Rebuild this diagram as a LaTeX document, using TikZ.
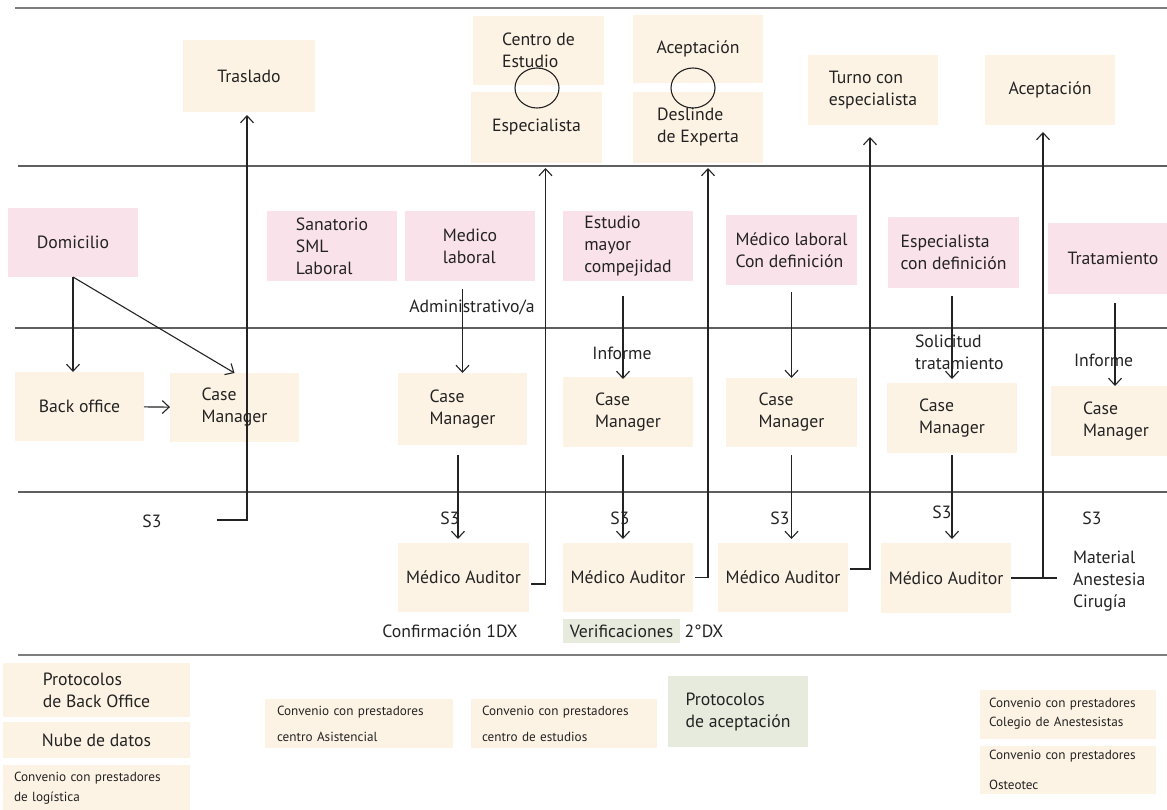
\documentclass[tikz,border=0pt]{standalone}
\usepackage{fontspec}
\setmainfont{PT Sans}
\usetikzlibrary{arrows.meta,shapes.geometric}

\definecolor{creamc}{RGB}{253,243,229}
\definecolor{pinkc}{RGB}{250,226,235}
\definecolor{greenc}{RGB}{230,235,221}
\definecolor{inkc}{RGB}{35,35,35}
\definecolor{lanec}{RGB}{95,95,95}
\definecolor{lanelight}{RGB}{125,125,125}

\newcommand\bodyfont{\fontsize{17.7}{22}\selectfont}

\begin{document}
\begin{tikzpicture}[x=1pt,y=-1pt,
  every node/.style={text=inkc, inner sep=0pt, outer sep=0pt, font=\bodyfont},
  box/.style={align=left, draw=none},
  cream/.style={box, fill=creamc},
  pink/.style={box, fill=pinkc},
  green/.style={box, fill=greenc},
  wh/.style 2 args={minimum width=#1, minimum height=#2},
  ring/.style={draw=inkc, line width=1.1pt, ellipse, minimum width=44, minimum height=40},
  lbl/.style={align=left},
  conn/.style={draw=inkc, line width=1.1pt},
  arr/.style={conn, -{Straight Barb[length=7pt,width=13pt,line width=1.1pt]}},
  lane/.style={draw=lanec, line width=2pt},
  laneout/.style={draw=lanelight, line width=2.8pt},
]
\useasboundingbox (0,0) rectangle (1167,809);

% swim-lane separators
\draw[laneout] (15,8) -- (1167,8);
\draw[lane] (18,166) -- (1167,166);
\draw[lane] (15,328) -- (1167,328);
\draw[lane] (18,492) -- (1167,492);
\draw[laneout] (18,655) -- (1167,655);

% top lane: outcomes
\node[cream, wh={132}{72}] (tras) at (249,76) {Traslado};
\node[cream, wh={131}{69}] (centro) at (538.5,50.5) {Centro de\\Estudio};
\node[cream, wh={131}{71}] (espe) at (536.5,127.5) {Especialista};
\node[ring] (ring1) at (537,88) {};
\node[cream, wh={130}{68}] (acep1) at (698,49) {Aceptación};
\node[cream, wh={130}{71}] (desl) at (698,127.5) {Deslinde\\de Experta};
\node[ring] (ring2) at (693,88) {};
\node[cream, wh={130}{70}] (turno) at (873,90) {Turno con\\especialista};
\node[cream, wh={130}{70}] (acep2) at (1050,90) {Aceptación};

% second lane: origins
\node[pink, wh={130}{69}] (dom) at (73,242.5) {Domicilio};
\node[pink, wh={130}{70}] (sana) at (332,246) {Sanatorio\\SML\\Laboral};
\node[pink, wh={130}{70}] (medlab) at (470,246) {Medico\\laboral};
\node[pink, wh={130}{70}] (estu) at (628,246) {Estudio\\mayor\\compejidad};
\node[pink, wh={131}{70}] (mlcon) at (791.5,250) {Médico laboral\\Con definición};
\node[pink, wh={131}{71}] (espcon) at (953.5,252.5) {Especialista\\con definición};
\node[pink, wh={130}{71}] (trat) at (1113,258.5) {Tratamiento};

% third lane: case management
\node[cream, wh={129}{69}] (back) at (79.5,406.5) {Back office};
\node[cream, wh={129}{69}] (cm1) at (234.5,407.5) {Case\\Manager};
\node[cream, wh={129}{72}] (cm2) at (462.5,409) {Case\\Manager};
\node[cream, wh={130}{70}] (cm3) at (628,412) {Case\\Manager};
\node[cream, wh={131}{69}] (cm4) at (791.5,412.5) {Case\\Manager};
\node[cream, wh={130}{70}] (cm5) at (952,418) {Case\\Manager};
\node[cream, wh={130}{70}] (cm6) at (1116,421) {Case\\Manager};

% fourth lane: audit
\node[cream, wh={131}{69}] (ma1) at (463.5,577.5) {Médico Auditor};
\node[cream, wh={130}{69}] (ma2) at (628,577.5) {Médico Auditor};
\node[cream, wh={130}{69}] (ma3) at (783,577.5) {Médico Auditor};
\node[cream, wh={130}{70}] (ma4) at (946,578) {Médico Auditor};

% free labels
\node[lbl] (adm) at (472,307) {Administrativo/a};
\node[lbl] (inf1) at (622,353) {Informe};
\node[lbl, anchor=west] (sol) at (915,352.5) {Solicitud\\tratamiento};
\node[lbl, anchor=west] (inf2) at (1074,360) {Informe};
\node (s3a) at (152,521) {S3};
\node (s3b) at (450,518) {S3};
\node (s3c) at (620,518) {S3};
\node (s3d) at (780,518) {S3};
\node (s3e) at (942,512) {S3};
\node (s3f) at (1092,518) {S3};
\node (conf) at (450,631) {Confirmación 1DX};
\node[green, wh={117}{24}] (verif) at (621.5,631) {Verificaciones};
\node (dx2) at (704,631) {2°DX};
\node[lbl, anchor=west] (mat) at (1073,581) {Material\\Anestesia\\Cirugía};

% bottom lane: resources
\node[cream, wh={187}{54}] (pbo) at (96.5,690) {Protocolos\\de Back Office};
\node[cream, wh={187}{36}] (nube) at (96.5,740) {Nube de datos};
\node[cream, wh={187}{46}, text width=165, inner xsep=11, font=\fontsize{13.2}{20}\selectfont] (clog) at (96.5,788) {Convenio con prestadores\\de logística};
\node[cream, wh={188}{49}, text width=164, inner xsep=12, font=\fontsize{13.2}{26}\selectfont] (casis) at (359,723.5) {Convenio con prestadores\\centro Asistencial};
\node[cream, wh={186}{49}, text width=164, inner xsep=11, font=\fontsize{13.2}{26}\selectfont] (cestu) at (564,723.5) {Convenio con prestadores\\centro de estudios};
\node[green, wh={140}{71}] (pacep) at (738,711.5) {Protocolos\\de aceptación};
\node[cream, wh={176}{49}, text width=158, inner xsep=9, font=\fontsize{13.2}{19}\selectfont] (ccol) at (1068,714) {Convenio con prestadores\\Colegio de Anestesistas};
\node[cream, wh={176}{48}, text width=158, inner xsep=9, font=\fontsize{13.2}{30}\selectfont] (cost) at (1068,770) {Convenio con prestadores\\Osteotec};

% connectors
\coordinate (hook1) at (217,520);
\coordinate (tail4) at (1057,578);

\draw[arr] (dom.south) -- (dom.south |- back.north);
\draw[arr] (dom.south) -- (cm1.north);
\draw[arr] (back) -- (cm1);
\draw[arr, shorten >=3pt] (hook1) -| ([xshift=-2]tras.south);

\draw[arr, shorten <=8pt] (cm2.north |- medlab.south) -- (cm2.north);
\draw[arr, shorten <=15pt, shorten >=-2pt] ([xshift=-5]estu.south) -- ([xshift=-5]cm3.north);
\draw[arr, shorten <=7pt] (mlcon.south) -- (mlcon.south |- cm4.north);
\draw[arr, shorten <=8pt, shorten >=4pt] ([xshift=-1.5]espcon.south) -- ([xshift=-1.5]espcon.south |- cm5.north);
\draw[arr, shorten <=9pt] ([xshift=2]trat.south) -- ([xshift=2]trat.south |- cm6.north);

\draw[arr, shorten <=10pt, shorten >=4pt] ([xshift=-4.5]cm2.south) -- ([xshift=-4.5]cm2.south |- ma1.north);
\draw[arr, shorten <=8pt, shorten >=4pt] ([xshift=-5]cm3.south) -- ([xshift=-5]ma2.north);
\draw[arr, shorten <=8pt, shorten >=4pt] (cm4.south) -- (cm4.south |- ma3.north);
\draw[arr, shorten <=2pt, shorten >=4pt] (cm5.south) -- (cm5.south |- ma4.north);

\draw[arr, shorten <=2pt, shorten >=5pt] ([yshift=-6.5]ma1.east) -| ([xshift=9]espe.south);
\draw[arr, shorten <=2pt, shorten >=5pt] (ma2.east) -| ([xshift=10]desl.south);
\draw[arr, shorten <=2pt, shorten >=12pt] ([yshift=8.5]ma3.east) -| ([xshift=-3]turno.south);
\draw[arr, shorten >=7pt] (ma4.east) -| ([xshift=-7]acep2.south);
\draw[conn] (ma4.east) -- (tail4);
\end{tikzpicture}
\end{document}
